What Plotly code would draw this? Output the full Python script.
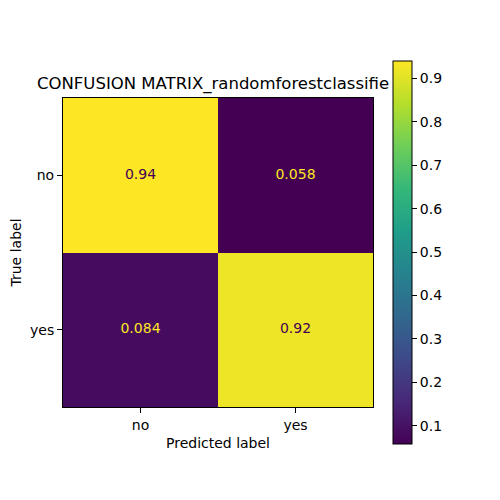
import plotly.graph_objects as go

# confusion matrix data (normalized)
labels = ["no", "yes"]
matrix = [
    [0.94, 0.058],
    [0.084, 0.92],
]
cbar_ticks = [0.1, 0.2, 0.3, 0.4, 0.5, 0.6, 0.7, 0.8, 0.9]
title_text = "CONFUSION MATRIX_randomforestclassifie"

zmin = min(min(r) for r in matrix)
zmax = max(max(r) for r in matrix)
mid = (zmin + zmax) / 2

FONT = "DejaVu Sans"
OFF = 8  # page body margin offset

fig = go.Figure()
fig.add_trace(go.Heatmap(
    z=matrix, x=labels, y=labels,
    colorscale="Viridis", zmin=zmin, zmax=zmax,
    showscale=True,
    colorbar=dict(
        x=1.0645, xanchor="left", xpad=0, ypad=0,
        y=0.5, yanchor="middle", len=1.24, lenmode="fraction",
        thickness=19, outlinewidth=1, outlinecolor="black",
        ticks="outside", ticklen=5, tickcolor="black",
        tickvals=cbar_ticks, tickformat=".1f",
        tickfont=dict(family=FONT, size=14, color="black"),
    ),
    hoverinfo="skip",
))

# cell value labels, coloured against the cell brightness
xs, ys, txt, cols = [], [], [], []
for i, row in enumerate(matrix):
    for j, v in enumerate(row):
        xs.append(labels[j])
        ys.append(labels[i])
        txt.append(f"{v:.2g}")
        cols.append("#440154" if v > mid else "#fde725")
fig.add_trace(go.Scatter(
    x=xs, y=ys, text=txt, mode="text",
    textfont=dict(family=FONT, size=14, color=cols),
    showlegend=False, hoverinfo="skip",
))

axis_common = dict(
    showline=True, mirror=True, linecolor="black", linewidth=1,
    ticks="outside", ticklen=5, tickcolor="black", showgrid=False,
    zeroline=False, automargin=False,
    tickfont=dict(family=FONT, size=14, color="black"),
    title_font=dict(family=FONT, size=14, color="black"),
)
fig.update_xaxes(title_text="Predicted label", title_standoff=6,
                 range=[-0.5, 1.5], **axis_common)
fig.update_yaxes(title_text="True label", title_standoff=12,
                 range=[1.5, -0.5], **axis_common)

fig.update_layout(
    width=500, height=500,
    margin=dict(l=63 - OFF, r=127 + OFF, t=98 - OFF, b=93 + OFF),
    paper_bgcolor="white", plot_bgcolor="white",
    title=dict(text=title_text, x=(37 - OFF) / 500, xanchor="left",
               xref="container", y=1 - (83 - OFF) / 500, yanchor="middle",
               yref="container",
               font=dict(family=FONT, size=16.5, color="black")),
    showlegend=False,
)

fig.write_html("out.html")
